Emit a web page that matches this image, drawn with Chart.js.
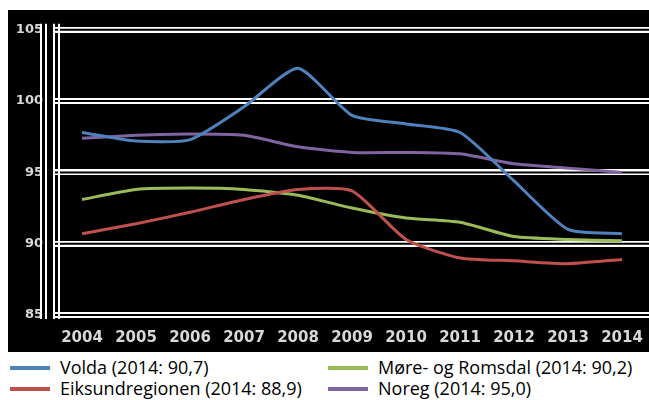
<!DOCTYPE html>
<html>
<head>
<meta charset="utf-8">
<script src="https://cdn.jsdelivr.net/npm/chart.js@4.4.1/dist/chart.umd.min.js"></script>
<style>
  html, body { margin: 0; padding: 0; background: #fff; }
  body { width: 649px; height: 400px; position: relative; overflow: hidden; }
  #wrap { position: absolute; left: 8px; top: 10px; width: 641px; height: 342px; background: #000; }
  #legend {
    position: absolute; left: 0; top: 354px; width: 649px;
    font-family: 'Open Sans', sans-serif; font-size: 18px; color: #000;
  }
  .item { position: absolute; white-space: nowrap; line-height: 22px; }
  .item span.sw { position: absolute; top: 10px; height: 4px; width: 40px; }
  .item span.tx { position: absolute; left: 50px; top: 0; }
</style>
</head>
<body>
<div id="wrap"><canvas id="chart" width="641" height="342"></canvas></div>
<div id="legend"></div>
<script>
const years = ['2004', '2005', '2006', '2007', '2008', '2009', '2010', '2011', '2012', '2013', '2014'];
const volda = [97.8, 97.2, 97.3, 99.6, 102.3, 99.0, 98.4, 97.8, 94.4, 91.0, 90.7];
const eiksund = [90.7, 91.4, 92.2, 93.1, 93.8, 93.7, 90.3, 89.0, 88.8, 88.6, 88.9];
const more = [93.1, 93.8, 93.9, 93.8, 93.4, 92.5, 91.8, 91.5, 90.5, 90.3, 90.2];
const noreg = [97.4, 97.6, 97.7, 97.6, 96.8, 96.4, 96.4, 96.3, 95.6, 95.3, 95.0];
const seriesNames = ['Volda (2014: 90,7)', 'Eiksundregionen (2014: 88,9)', 'Møre- og Romsdal (2014: 90,2)', 'Noreg (2014: 95,0)'];
const seriesColors = ['#4F81BD', '#C0504D', '#9BBB59', '#8064A2'];
const yTicks = [85, 90, 95, 100, 105];

// svarte midtlinjer i rutenettet, gir dobbel kvit strek
const doubleGrid = {
  id: 'doubleGrid',
  beforeDatasetsDraw(chart) {
    const ctx = chart.ctx;
    const area = chart.chartArea;
    const y = chart.scales.y;
    ctx.save();
    ctx.strokeStyle = '#000';
    ctx.lineWidth = 2;
    yTicks.forEach(v => {
      const py = y.getPixelForValue(v);
      ctx.beginPath();
      ctx.moveTo(area.left - 4, py);
      ctx.lineTo(area.right, py);
      ctx.stroke();
    });
    // dobbel vertikal akse
    ctx.strokeStyle = '#fff';
    ctx.lineWidth = 2;
    [area.left - 14, area.left - 9, area.left - 1, area.left + 4].forEach(px => {
      ctx.beginPath();
      ctx.moveTo(px, area.top - 6);
      ctx.lineTo(px, area.bottom + 4);
      ctx.stroke();
    });
    ctx.restore();
  }
};

const datasets = [volda, eiksund, more, noreg].map((d, i) => ({
  label: seriesNames[i],
  data: d,
  borderColor: seriesColors[i],
  backgroundColor: seriesColors[i],
  borderWidth: 3,
  tension: 0.2,
  pointRadius: 0,
  fill: false
}));

new Chart(document.getElementById('chart'), {
  type: 'line',
  data: { labels: years, datasets: datasets },
  options: {
    responsive: false,
    animation: false,
    layout: { padding: { top: 13, right: 0, left: 0, bottom: 0 } },
    plugins: { legend: { display: false }, tooltip: { enabled: false } },
    scales: {
      x: {
        offset: true,
        grid: { display: false },
        border: { display: false },
        ticks: {
          color: '#d8d8d8',
          padding: 6,
          maxRotation: 0,
          font: { family: 'DejaVu Sans', size: 15, weight: 'bold' }
        },
        afterFit: s => { s.height = 37; }
      },
      y: {
        min: 85,
        max: 105,
        ticks: {
          stepSize: 5,
          color: '#d8d8d8',
          padding: 12,
          font: { family: 'DejaVu Sans', size: 13, weight: 'bold' }
        },
        grid: { color: '#fff', lineWidth: 6, drawTicks: false },
        border: { display: false },
        afterFit: s => { s.width = 47; }
      }
    }
  },
  plugins: [doubleGrid]
});

// legende i to kolonner
const legend = document.getElementById('legend');
const order = [0, 2, 1, 3];
order.forEach((idx, k) => {
  const el = document.createElement('div');
  el.className = 'item';
  el.style.left = (k % 2 === 0 ? 10 : 328) + 'px';
  el.style.top = (k < 2 ? 2 : 23) + 'px';
  el.innerHTML = '<span class="sw" style="background:' + seriesColors[idx] + '"></span><span class="tx">' + seriesNames[idx] + '</span>';
  legend.appendChild(el);
});
</script>
</body>
</html>
